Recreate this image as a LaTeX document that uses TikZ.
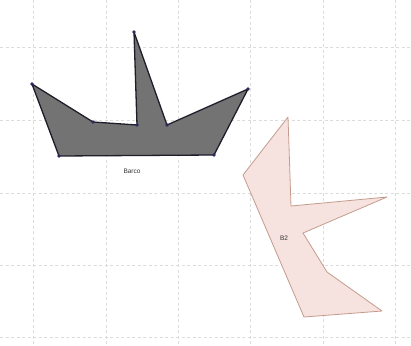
\documentclass[tikz,border=0pt]{standalone}
\usepackage{fontspec}
\setmainfont{Liberation Sans}
\definecolor{gridc}{HTML}{DCDCDC}
\definecolor{boatfill}{HTML}{737373}
\definecolor{boatline}{HTML}{1E1E2A}
\definecolor{dotc}{HTML}{2A2A60}
\definecolor{bfill}{HTML}{F6E2DE}
\definecolor{bline}{HTML}{C49C8E}
\begin{document}
\begin{tikzpicture}[x=1pt,y=-1pt,
  gridline/.style={gridc, dash pattern=on 3pt off 2.5pt, line width=0.7pt},
  vdot/.style={circle, fill=dotc, inner sep=0pt, minimum size=3.8pt},
  lbl/.style={font=\fontsize{6.5}{7.5}\selectfont, text=black!80}]
\useasboundingbox[fill=white] (0,0) rectangle (411,345);
\foreach \x in {33,106,178,250,323,395} \draw[gridline] (\x,0) -- (\x,345);
\foreach \y in {47,120,193,265,337} \draw[gridline] (0,\y) -- (411,\y);
% Barco
\coordinate (A) at (32,84);
\coordinate (B) at (93,122);
\coordinate (C) at (137,125);
\coordinate (D) at (134,32);
\coordinate (E) at (167,125);
\coordinate (F) at (248,89);
\coordinate (G) at (214,155);
\coordinate (H) at (59,156);
\draw[fill=boatfill, draw=boatline, line width=1.3pt, line join=round]
  (A) -- (B) -- (C) -- (D) -- (E) -- (F) -- (G) -- (H) -- cycle;
\foreach \p in {A,B,C,D,E,F,G,H} \node[vdot] at (\p) {};
\node[lbl] (barco) at (132,171) {Barco};
% B2
\coordinate (P1) at (288,117);
\coordinate (P2) at (243,175);
\coordinate (P3) at (304,317);
\coordinate (P4) at (382,311);
\coordinate (P5) at (327,272);
\coordinate (P6) at (303,233);
\coordinate (P7) at (387,197);
\coordinate (P8) at (291,206);
\draw[fill=bfill, draw=bline, line width=0.8pt, line join=round]
  (P1) -- (P2) -- (P3) -- (P4) -- (P5) -- (P6) -- (P7) -- (P8) -- cycle;
\node[lbl] (b2) at (284,238) {B2};
\end{tikzpicture}
\end{document}
